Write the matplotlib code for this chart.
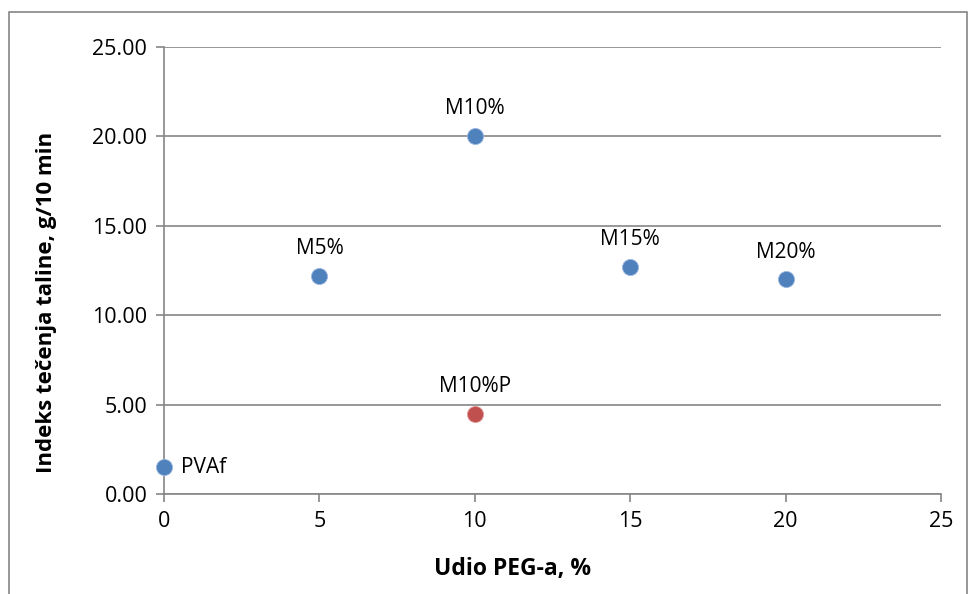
import matplotlib
matplotlib.use("Agg")
import matplotlib.pyplot as plt
from matplotlib.patches import Rectangle

plt.rcParams["font.family"] = ["Open Sans", "DejaVu Sans"]

# data
LABELS = ["PVAf", "M5%", "M10%", "M15%", "M20%", "M10%P"]
PEG = [0, 5, 10, 15, 20, 10]
MFI = [1.50, 12.20, 20.05, 12.70, 12.00, 4.47]
COLORS = ["#4F81BD"] * 5 + ["#C0504D"]
X_TICKS = [0, 5, 10, 15, 20, 25]
Y_TICKS = [0, 5, 10, 15, 20, 25]

GRID = "#868686"

fig = plt.figure(figsize=(9.7, 5.94), dpi=100)
fig.patches.append(Rectangle((9 / 970, -0.01), 958 / 970, 1 - 12 / 594 + 0.01,
                             transform=fig.transFigure, fill=False,
                             edgecolor="#868686", linewidth=1.2))
ax = fig.add_axes([164 / 970, 1 - 494 / 594, 777 / 970, 447 / 594])

for x, y, c in zip(PEG, MFI, COLORS):
    ax.scatter(x, y, s=135, color=c, edgecolor="#9DB9E0" if c != "#C0504D" else "#E29E9C",
               linewidth=0.6, zorder=3, clip_on=False)

for lab, x, y in zip(LABELS, PEG, MFI):
    if lab == "PVAf":
        ax.annotate(lab, (x, y), xytext=(12, 0), textcoords="offset points",
                    ha="left", va="center", fontsize=15)
    else:
        ax.annotate(lab, (x, y), xytext=(0, 12), textcoords="offset points",
                    ha="center", va="bottom", fontsize=15)

ax.set_xlim(0, 25)
ax.set_ylim(0, 25)
ax.set_xticks(X_TICKS)
ax.set_yticks(Y_TICKS)
ax.set_yticklabels([f"{v:.2f}" for v in Y_TICKS])
ax.tick_params(axis="both", labelsize=15.5, color=GRID, length=6, width=1.2, pad=6)
ax.grid(axis="y", color=GRID, linewidth=1.2)
ax.set_axisbelow(True)
for s in ["top", "right"]:
    ax.spines[s].set_visible(False)
for s in ["left", "bottom"]:
    ax.spines[s].set_color(GRID)
    ax.spines[s].set_linewidth(1.2)

# axis titles placed like the Excel original (slightly off-centre)
fig.text(513 / 970, 1 - 569 / 594, "Udio PEG-a, %", fontsize=16.5,
         fontweight="bold", ha="center", va="center")
fig.text(47 / 970, 1 - 302 / 594, "Indeks tečenja taline, g/10 min",
         fontsize=16, fontweight="bold", ha="center", va="center", rotation=90)

fig.savefig("out.png", dpi=100)
